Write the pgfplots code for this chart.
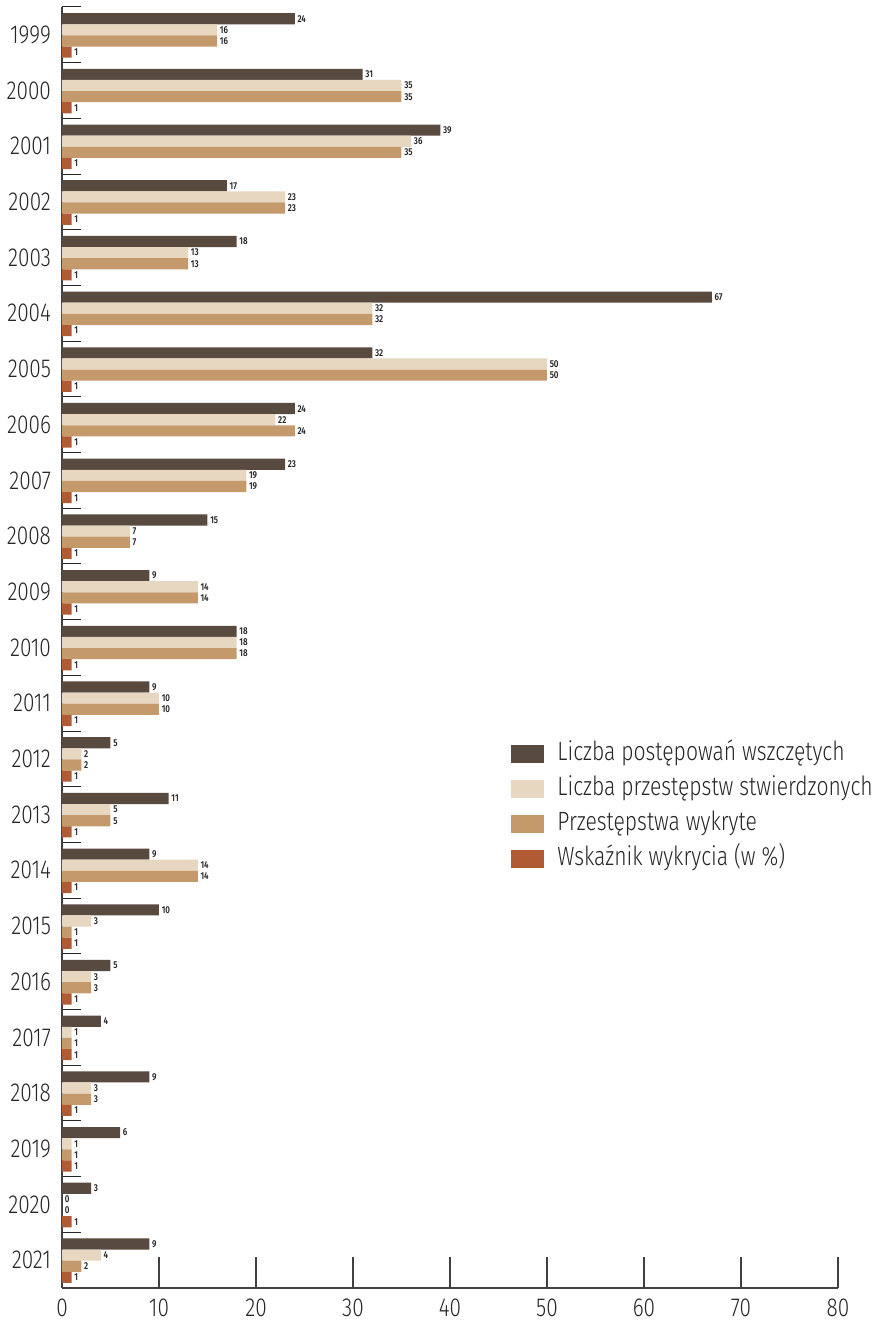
\documentclass[border=0pt]{standalone}
\usepackage{pgfplots}
\usepackage{pgfplotstable}
\pgfplotsset{compat=1.18}
\usepackage{fontspec}
\setmainfont{Fira Sans}[FakeStretch=0.8, UprightFont=* Light, BoldFont=* SemiBold]

\definecolor{cDark}{HTML}{594A40}
\definecolor{cLight}{HTML}{E7D6C0}
\definecolor{cTan}{HTML}{C49A6C}
\definecolor{cRed}{HTML}{B15B35}

% year index, proceedings opened, offences found, offences detected, detection rate
\pgfplotstableread{
idx a  b  c  d
0   24 16 16 1
1   31 35 35 1
2   39 36 35 1
3   17 23 23 1
4   18 13 13 1
5   67 32 32 1
6   32 50 50 1
7   24 22 24 1
8   23 19 19 1
9   15 7  7  1
10  9  14 14 1
11  18 18 18 1
12  9  10 10 1
13  5  2  2  1
14  11 5  5  1
15  9  14 14 1
16  10 3  1  1
17  5  3  3  1
18  4  1  1  1
19  9  3  3  1
20  6  1  1  1
21  3  0  0  1
22  9  4  2  1
}\datatable

\begin{document}
\begin{tikzpicture}
\begin{axis}[
  scale only axis,
  width=388pt, height=640.5pt,
  xbar, bar width=0.2,
  xmin=0, xmax=80,
  ymin=-0.5, ymax=22.5,
  y dir=reverse,
  enlargelimits=false,
  clip=false,
  axis lines*=left,
  axis line style={draw=black!75, line width=0.7pt},
  tick align=inside,
  major tick length=15.5pt,
  minor tick length=9.5pt,
  xtick={0,10,...,80},
  x tick style={draw=black!75, line width=0.6pt},
  ytick={0,...,22},
  yticklabels={1999,2000,2001,2002,2003,2004,2005,2006,2007,2008,2009,2010,2011,2012,2013,2014,2015,2016,2017,2018,2019,2020,2021},
  major y tick style={draw=none},
  minor ytick={-0.5,0.5,...,22.5},
  minor y tick style={draw=black!85, line width=0.5pt},
  /pgf/number format/assume math mode=true,
  tick label style={font=\fontsize{13}{15}\selectfont, text=black!85},
  yticklabel style={xshift=-2pt},
  xticklabel style={yshift=-2pt},
  nodes near coords,
  every node near coord/.append style={font=\fontsize{5}{6}\selectfont\bfseries, text=black!85, inner sep=1.2pt},
  legend cell align=left,
  legend style={draw=none, fill=none, at={(axis description cs:0.571,0.430)}, anchor=north west,
    font=\fontsize{13.2}{15}\selectfont, text=black!85, row sep=5pt,
    nodes={inner sep=0pt, text height=9.5pt, text depth=3pt}},
  legend image code/.code={\fill[#1, draw=none] (0pt,-4.5pt) rectangle (16.5pt,4.5pt); \path (23pt,0pt);},
]
\addplot[fill=cDark, draw=none, bar shift=-0.29] table[x=a, y=idx] {\datatable};
\addplot[fill=cLight, draw=none, bar shift=-0.09] table[x=b, y=idx] {\datatable};
\addplot[fill=cTan, draw=none, bar shift=0.11] table[x=c, y=idx] {\datatable};
\addplot[fill=cRed, draw=none, bar shift=0.31] table[x=d, y=idx] {\datatable};
\legend{Liczba postępowań wszczętych, Liczba przestępstw stwierdzonych, Przestępstwa wykryte, Wskaźnik wykrycia (w \%)}
\coordinate (bbsw) at (axis description cs:-0.0799,-0.0289);
\coordinate (bbne) at (axis description cs:1.0528,1.00546);
\end{axis}
\pgfresetboundingbox
\path (bbsw) rectangle (bbne);
\end{tikzpicture}
\end{document}
